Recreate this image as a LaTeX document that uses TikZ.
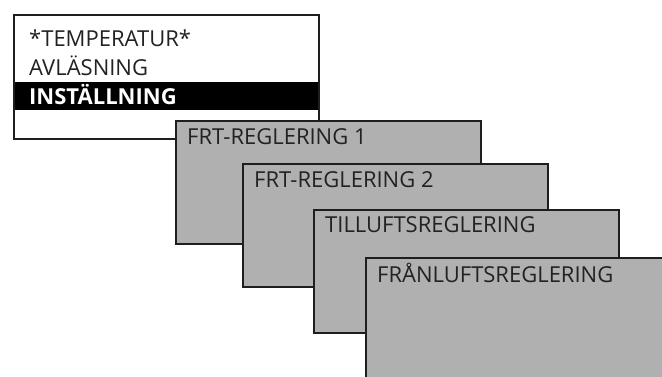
\documentclass[tikz,border=0pt]{standalone}
\usepackage{fontspec}
\setmainfont{Open Sans}
\definecolor{panelgray}{HTML}{B0B0B0}
\definecolor{edge}{HTML}{1E1E1E}
\definecolor{ink}{HTML}{222222}
\tikzset{
  panel/.style={draw=edge, line width=2.5pt, fill=panelgray, anchor=north west,
    minimum width=305pt, minimum height=123pt, inner sep=0pt, outer sep=0pt},
  menubox/.style={panel, fill=white, minimum width=305pt, minimum height=124pt},
  lbl/.style={anchor=base west, inner sep=0pt, text=ink, font=\fontsize{22}{26}\selectfont},
  hilite/.style={fill=black, draw=none, anchor=north west, minimum width=305pt, minimum height=28pt, inner sep=0pt, outer sep=0pt}
}
\begin{document}
\begin{tikzpicture}[x=1pt, y=-1pt]
\useasboundingbox (0,0) rectangle (662,377);
\clip (0,0) rectangle (662,377);
\node[menubox] (menu) at (14,15) {};
\node[hilite] (bar) at (14,82) {};
\node[lbl] (t0) at (29,47) {*TEMPERATUR*};
\node[lbl] (t1) at (29,76) {AVLÄSNING};
\node[lbl, text=white, font=\fontsize{22}{26}\selectfont\bfseries] (t2) at (29,105) {INSTÄLLNING};
\draw[edge, line width=2.5pt] (menu.north west) rectangle (menu.south east);
\node[panel] (p1) at (176,121) {};
\node[lbl] (l1) at (187,145) {FRT-REGLERING 1};
\node[panel] (p2) at (243,164) {};
\node[lbl] (l2) at (254,188) {FRT-REGLERING 2};
\node[panel] (p3) at (314,210) {};
\node[lbl] (l3) at (325,233) {TILLUFTSREGLERING};
\node[panel] (p4) at (366,258) {};
\node[lbl] (l4) at (377,282) {FRÅNLUFTSREGLERING};
\end{tikzpicture}
\end{document}
